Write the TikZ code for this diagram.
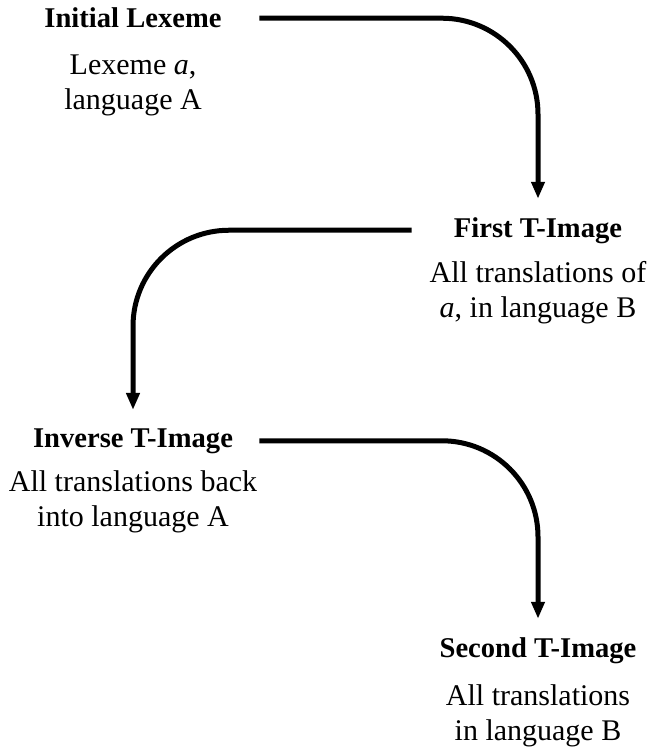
\documentclass[tikz,border=0pt]{standalone}
\usepackage{fontspec}
\setmainfont{Liberation Serif}
\usetikzlibrary{arrows.meta}
\begin{document}
\begin{tikzpicture}[x=0.5pt,y=-0.5pt,
  title/.style={font=\fontsize{14.3}{17.5}\selectfont\bfseries, inner sep=0pt, minimum width=126pt, anchor=base},
  desc/.style={font=\fontsize{15}{17.5}\selectfont, inner sep=0pt, anchor=base},
  conn/.style={line width=2.5pt, rounded corners=48pt, -{Triangle[length=8.5pt,width=6.5pt]}, shorten >=9pt}]
\useasboundingbox (0,0) rectangle (651,754);
\node[title] (il) at (133,28) {Initial Lexeme};
\node[desc] (ild) at (133,75) {\begin{tabular}[t]{@{}c@{}}Lexeme \textit{a},\\ language A\end{tabular}};
\node[title] (ft) at (538,237) {First T-Image};
\node[desc] (ftd) at (538,282) {\begin{tabular}[t]{@{}c@{}}All translations of\\ \textit{a}, in language B\end{tabular}};
\node[title] (inv) at (133,447) {Inverse T-Image};
\node[desc] (invd) at (133,491) {\begin{tabular}[t]{@{}c@{}}All translations back\\ into language A\end{tabular}};
\node[title] (st) at (538,657) {Second T-Image};
\node[desc] (std) at (538,705) {\begin{tabular}[t]{@{}c@{}}All translations\\ in language B\end{tabular}};
\draw[conn] (il.east) -| (ft.north);
\draw[conn] (ft.west) -| (inv.north);
\draw[conn] (inv.east) -| (st.north);
\end{tikzpicture}
\end{document}
